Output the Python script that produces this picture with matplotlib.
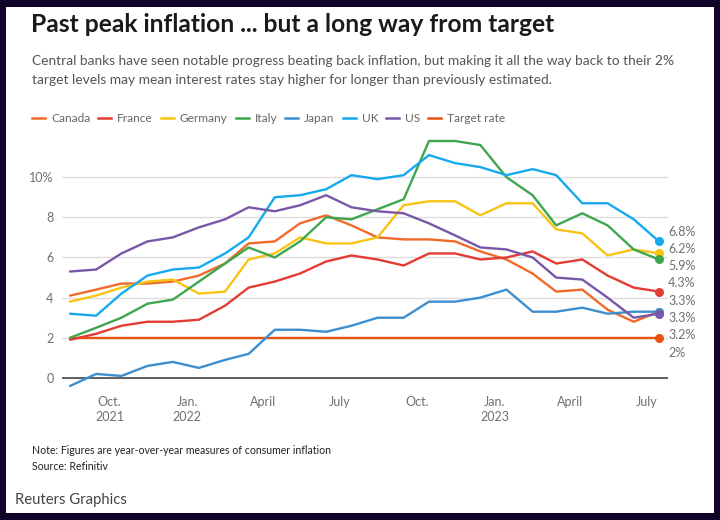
import matplotlib
matplotlib.use('Agg')
import matplotlib.pyplot as plt
import pandas as pd
from matplotlib.patches import Rectangle
from matplotlib.lines import Line2D

plt.rcParams['font.family'] = ['Lato', 'DejaVu Sans']

# ---------------- data ----------------
months = pd.date_range('2021-08-01', '2023-07-01', freq='MS') + pd.Timedelta(days=14)

canada = [4.1, 4.4, 4.7, 4.7, 4.8, 5.1, 5.7, 6.7, 6.8, 7.7, 8.1, 7.6,
          7.0, 6.9, 6.9, 6.8, 6.3, 5.9, 5.2, 4.3, 4.4, 3.4, 2.8, 3.3]
france = [1.9, 2.2, 2.6, 2.8, 2.8, 2.9, 3.6, 4.5, 4.8, 5.2, 5.8, 6.1,
          5.9, 5.6, 6.2, 6.2, 5.9, 6.0, 6.3, 5.7, 5.9, 5.1, 4.5, 4.3]
germany = [3.8, 4.1, 4.5, 4.8, 4.9, 4.2, 4.3, 5.9, 6.2, 7.0, 6.7, 6.7,
           7.0, 8.6, 8.8, 8.8, 8.1, 8.7, 8.7, 7.4, 7.2, 6.1, 6.4, 6.2]
italy = [2.0, 2.5, 3.0, 3.7, 3.9, 4.8, 5.7, 6.5, 6.0, 6.8, 8.0, 7.9,
         8.4, 8.9, 11.8, 11.8, 11.6, 10.0, 9.1, 7.6, 8.2, 7.6, 6.4, 5.9]
japan = [-0.4, 0.2, 0.1, 0.6, 0.8, 0.5, 0.9, 1.2, 2.4, 2.4, 2.3, 2.6,
         3.0, 3.0, 3.8, 3.8, 4.0, 4.4, 3.3, 3.3, 3.5, 3.2, 3.3, 3.3]
uk = [3.2, 3.1, 4.2, 5.1, 5.4, 5.5, 6.2, 7.0, 9.0, 9.1, 9.4, 10.1,
      9.9, 10.1, 11.1, 10.7, 10.5, 10.1, 10.4, 10.1, 8.7, 8.7, 7.9, 6.8]
us = [5.3, 5.4, 6.2, 6.8, 7.0, 7.5, 7.9, 8.5, 8.3, 8.6, 9.1, 8.5,
      8.3, 8.2, 7.7, 7.1, 6.5, 6.4, 6.0, 5.0, 4.9, 4.0, 3.0, 3.2]
target = [2.0] * len(months)

series_names = ['Canada', 'France', 'Germany', 'Italy', 'Japan', 'UK', 'US', 'Target rate']
series_values = [canada, france, germany, italy, japan, uk, us, target]
series_colors = ['#f26a2a', '#e53b35', '#f8c414', '#3ea64e', '#3d8ecf', '#16a9ee', '#7957a8', '#e8540f']

yticks = [0, 2, 4, 6, 8, 10]
ytick_labels = ['0', '2', '4', '6', '8', '10%']
xtick_dates = pd.to_datetime(['2021-10-01', '2022-01-01', '2022-04-01', '2022-07-01',
                              '2022-10-01', '2023-01-01', '2023-04-01', '2023-07-01'])
xtick_labels = ['Oct.\n2021', 'Jan.\n2022', 'April', 'July', 'Oct.', 'Jan.\n2023', 'April', 'July']

title = 'Past peak inflation ... but a long way from target'
subtitle1 = 'Central banks have seen notable progress beating back inflation, but making it all the way back to their 2%'
subtitle2 = 'target levels may mean interest rates stay higher for longer than previously estimated.'
note = 'Note: Figures are year-over-year measures of consumer inflation'
source = 'Source: Refinitiv'
credit = 'Reuters Graphics'

# ---------------- figure ----------------
W, H = 720, 520
fig = plt.figure(figsize=(W / 100, H / 100), dpi=100)
fig.patch.set_facecolor('#12032b')
fig.add_artist(Rectangle((6 / W, 7 / H), 708 / W, 506 / H, transform=fig.transFigure,
                         facecolor='white', edgecolor='none', zorder=0))

def fx(px):
    return px / W

def fy(py):
    return 1 - py / H

ax = fig.add_axes([fx(62), fy(390), 606 / W, 253 / H])
ax.set_facecolor('none')
ax.set_ylim(-0.6, 12)
ax.set_xlim(months[0] - pd.Timedelta(days=9.5), months[-1] + pd.Timedelta(days=10.7))

ax.set_yticks(yticks)
ax.set_yticklabels(ytick_labels)
ax.set_xticks(xtick_dates)
ax.set_xticklabels(xtick_labels, linespacing=1.35)
for s in ax.spines.values():
    s.set_visible(False)
ax.tick_params(axis='both', length=0, labelcolor='#707070', labelsize=9)
ax.tick_params(axis='y', pad=6)
ax.tick_params(axis='x', pad=4)
ax.yaxis.grid(True, color='#dddddd', lw=1, zorder=0)
ax.set_axisbelow(True)
ax.axhline(0, color='#555555', lw=1.3, zorder=1)

# draw target first, then countries
draw_order = [7, 0, 1, 2, 3, 4, 5, 6]
for i in draw_order:
    ax.plot(months, series_values[i], color=series_colors[i], lw=1.7, zorder=3,
            solid_capstyle='round', solid_joinstyle='round')
    ax.plot([months[-1]], [series_values[i][-1]], 'o', color=series_colors[i], ms=6.5, zorder=4,
            markeredgewidth=0)

# end labels, dodged apart
def dodge(vals, gap):
    order = sorted(range(len(vals)), key=lambda k: -vals[k])
    clusters = [[k] for k in order]
    def span(c):
        center = sum(vals[k] for k in c) / len(c)
        half = gap * (len(c) - 1) / 2
        return center + half, center - half
    merged = True
    while merged:
        merged = False
        for j in range(len(clusters) - 1):
            top_a, bot_a = span(clusters[j])
            top_b, bot_b = span(clusters[j + 1])
            if bot_a - top_b < gap:
                clusters[j] = clusters[j] + clusters[j + 1]
                del clusters[j + 1]
                merged = True
                break
    pos = {}
    for c in clusters:
        top, _ = span(c)
        for n, k in enumerate(c):
            pos[k] = top - n * gap
    return pos

last_vals = [v[-1] for v in series_values]
label_pos = dodge(last_vals, 0.86)
for k, v in enumerate(last_vals):
    ax.text(1.0, label_pos[k] - 0.1, f'{v:g}%', transform=ax.get_yaxis_transform(),
            ha='left', va='center', fontsize=9, color='#707070', clip_on=False)

# titles
fig.text(fx(31), fy(25), title, fontsize=17.7, fontweight='bold', color='#1a1a1a', va='center')
fig.text(fx(32), fy(61), subtitle1, fontsize=9.9, color='#555555', va='center')
fig.text(fx(32), fy(80), subtitle2, fontsize=9.9, color='#555555', va='center')

# legend (manual)
renderer = fig.canvas.get_renderer()
x = 32
ly = fy(118)
for name, color in zip(series_names, series_colors):
    fig.add_artist(Line2D([fx(x), fx(x + 13)], [ly, ly], transform=fig.transFigure,
                          color=color, lw=1.8))
    t = fig.text(fx(x + 19), ly, name, fontsize=8.6, color='#666666', va='center')
    bb = t.get_window_extent(renderer)
    x = bb.x1 + 8

# footer
fig.text(fx(32), fy(451), note, fontsize=7.6, color='#222222', va='center')
fig.text(fx(32), fy(467), source, fontsize=7.6, color='#222222', va='center')
fig.text(fx(15), fy(500), credit, fontsize=10.7, color='#444444', va='center')

fig.savefig('out.png', dpi=100, facecolor=fig.get_facecolor())
